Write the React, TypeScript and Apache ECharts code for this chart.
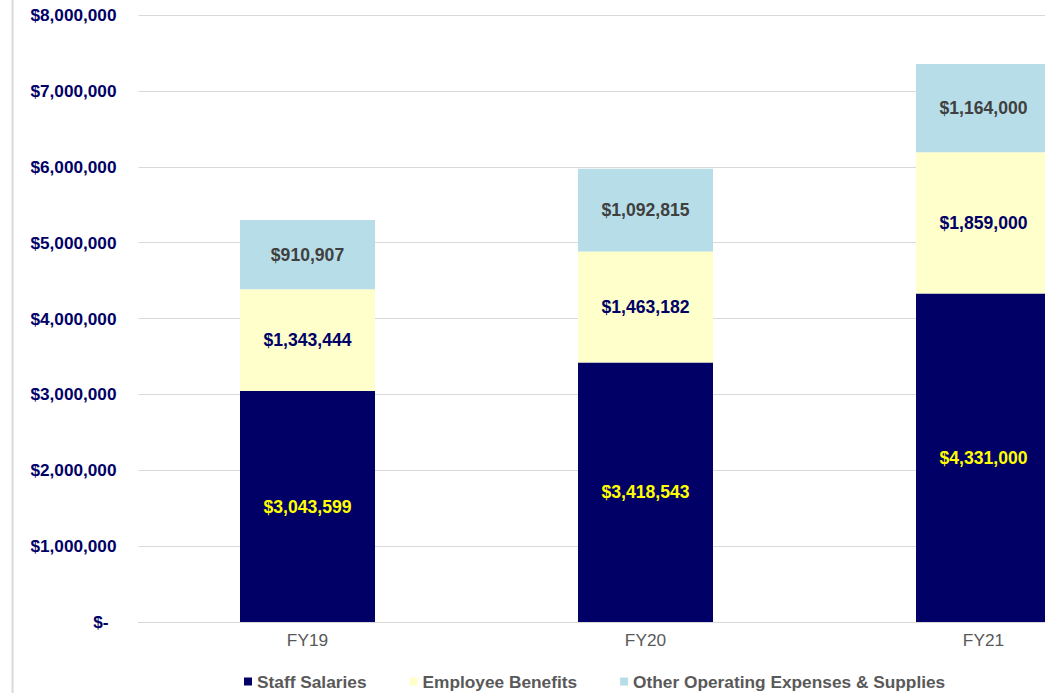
import React, { useEffect, useRef } from "react";
import * as echarts from "echarts";

const categories = ["FY19", "FY20", "FY21"];
const staffSalaries = [3043599, 3418543, 4331000];
const employeeBenefits = [1343444, 1463182, 1859000];
const otherOperating = [910907, 1092815, 1164000];
const seriesNames = ["Staff Salaries", "Employee Benefits", "Other Operating Expenses & Supplies"];

const fmt = (v: number) => (v === 0 ? "$-" : "$" + v.toLocaleString("en-US"));

export default function App() {
  const ref = useRef<HTMLDivElement>(null);
  useEffect(() => {
    if (!ref.current) return;
    const chart = echarts.init(ref.current, undefined, { renderer: "svg" });
    const font = "'Liberation Sans', Arial, sans-serif";
    const labelBase = {
      show: true,
      position: "inside" as const,
      fontFamily: font,
      fontWeight: "bold" as const,
      fontSize: 17.6,
      formatter: (p: any) => fmt(p.value),
    };
    chart.setOption({
      animation: false,
      backgroundColor: "#ffffff",
      textStyle: { fontFamily: font },
      grid: { left: 138.5, right: 7.5, top: 15, bottom: 71, containLabel: false },
      legend: {
        left: 239,
        top: 668,
        icon: "rect",
        itemWidth: 8,
        itemHeight: 8,
        itemGap: 43,
        textStyle: { fontFamily: font, fontWeight: "bold", fontSize: 17.3, color: "#595959" },
        data: seriesNames,
      },
      xAxis: {
        type: "category",
        data: categories,
        axisLine: { lineStyle: { color: "#d9d9d9", width: 1 } },
        axisTick: { show: false },
        axisLabel: { color: "#595959", fontSize: 17.3, fontFamily: font, margin: 9 },
      },
      yAxis: {
        type: "value",
        min: 0,
        max: 8000000,
        interval: 1000000,
        axisLine: { show: false },
        axisTick: { show: false },
        splitLine: { lineStyle: { color: "#d9d9d9", width: 1 } },
        axisLabel: {
          color: "#000066",
          fontWeight: "bold",
          fontSize: 17.2,
          fontFamily: font,
          margin: 22,
          formatter: (v: number) => (v === 0 ? "{z|$-}" : fmt(v)),
          rich: {
            z: {
              color: "#000066",
              fontWeight: "bold",
              fontSize: 17.2,
              fontFamily: font,
              padding: [0, 8, 0, 0],
            },
          },
        },
      },
      graphic: [
        {
          type: "line",
          shape: { x1: 12.5, y1: 0, x2: 12.5, y2: 693 },
          style: { stroke: "#d9d9d9", lineWidth: 2 },
        },
      ],
      series: [
        {
          name: seriesNames[0],
          type: "bar",
          stack: "total",
          barWidth: 135,
          data: staffSalaries,
          itemStyle: { color: "#000066" },
          label: { ...labelBase, color: "#FFFF00" },
        },
        {
          name: seriesNames[1],
          type: "bar",
          stack: "total",
          barWidth: 135,
          data: employeeBenefits,
          itemStyle: { color: "#FFFFCC" },
          label: { ...labelBase, color: "#000066" },
        },
        {
          name: seriesNames[2],
          type: "bar",
          stack: "total",
          barWidth: 135,
          data: otherOperating,
          itemStyle: { color: "#B7DDE8" },
          label: { ...labelBase, color: "#404040" },
        },
      ],
    });
    return () => chart.dispose();
  }, []);
  return (
    <div style={{ position: "fixed", left: 0, top: 0, width: 1045, height: 693, overflow: "hidden", background: "#fff" }}>
      <div ref={ref} style={{ position: "absolute", left: 0, top: 0, width: 1160, height: 693 }} />
    </div>
  );
}
